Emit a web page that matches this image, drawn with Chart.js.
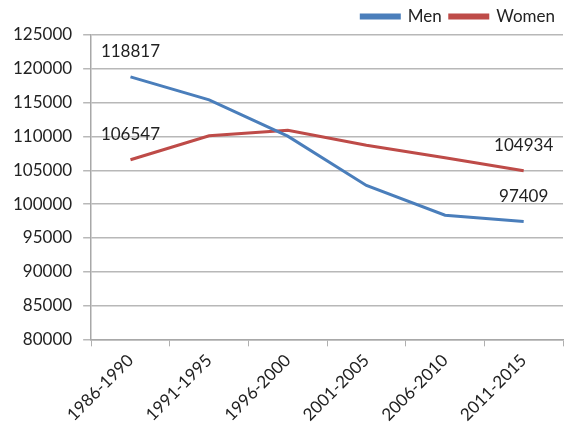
<!DOCTYPE html>
<html>
<head>
<meta charset="utf-8">
<script src="https://cdn.jsdelivr.net/npm/chart.js@4"></script>
<style>
  html, body { margin: 0; padding: 0; background: #fff; }
  #wrap { width: 564px; height: 429px; position: relative; }
</style>
</head>
<body>
<div id="wrap"><canvas id="c" width="564" height="429"></canvas></div>
<script>
// Five-year periods
const periods = ['1986-1990', '1991-1995', '1996-2000', '2001-2005', '2006-2010', '2011-2015'];
// Counts per period
const men   = [118817, 115400, 110050, 102750, 98350, 97409];
const women = [106547, 110100, 110900, 108700, 106850, 104934];
// Value axis range
const yMin = 80000, yMax = 125000, yStep = 5000;

const FONT = 'Lato, "Open Sans", sans-serif';
const TEXT = '#222';

// Writes the first and last value of each series above its point
const endLabels = {
  id: 'endLabels',
  afterDatasetsDraw(chart) {
    const ctx = chart.ctx;
    ctx.save();
    ctx.font = '17px ' + FONT;
    ctx.fillStyle = TEXT;
    ctx.textAlign = 'center';
    ctx.textBaseline = 'middle';
    chart.data.datasets.forEach((ds, i) => {
      const pts = chart.getDatasetMeta(i).data;
      [0, pts.length - 1].forEach(k => {
        const p = pts[k];
        ctx.fillText(String(ds.data[k]), p.x, p.y - 25);
      });
    });
    ctx.restore();
  }
};

new Chart(document.getElementById('c'), {
  type: 'line',
  data: {
    labels: periods,
    datasets: [
      { label: 'Men', data: men, borderColor: '#4a7ebb', backgroundColor: '#4a7ebb',
        borderWidth: 3, pointRadius: 0, tension: 0 },
      { label: 'Women', data: women, borderColor: '#be4b48', backgroundColor: '#be4b48',
        borderWidth: 3, pointRadius: 0, tension: 0 }
    ]
  },
  options: {
    responsive: false,
    animation: false,
    layout: { padding: { left: 2, right: 1, top: 0, bottom: 0 } },
    plugins: {
      legend: {
        position: 'top',
        align: 'end',
        labels: {
          boxWidth: 38, boxHeight: 3, padding: 8,
          color: TEXT, font: { family: FONT, size: 17 }
        }
      },
      tooltip: { enabled: false }
    },
    scales: {
      x: {
        offset: true,
        grid: { display: true, offset: true, drawOnChartArea: false, drawTicks: true, tickLength: 7, color: '#b0b0b0' },
        border: { color: '#a8a8a8', width: 1.5 },
        ticks: { color: TEXT, font: { family: FONT, size: 17 }, minRotation: 45, maxRotation: 45, padding: 4 }
      },
      y: {
        min: yMin, max: yMax,
        grid: { color: '#b8b8b8', lineWidth: 1.5, tickLength: 8 },
        border: { color: '#a8a8a8', width: 1.5 },
        ticks: { stepSize: yStep, color: TEXT, font: { family: FONT, size: 17 }, padding: 11,
                 callback: v => String(v) }
      }
    }
  },
  plugins: [endLabels]
});
</script>
</body>
</html>
